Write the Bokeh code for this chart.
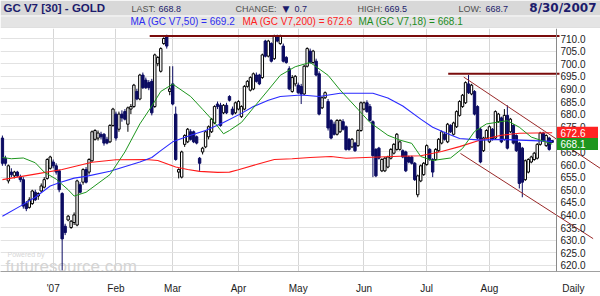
import numpy as np
from bokeh.plotting import figure
from bokeh.layouts import column
from bokeh.models import Range1d, FixedTicker, Span, Grid
from bokeh.core.properties import value
from bokeh.embed import file_html
from bokeh.resources import INLINE

# ---------------- data ----------------
opens = [670.5, 662.5, 653.5, 657.0, 655.5, 657.0, 655.0, 654.0, 644.5, 643.0,
         644.5, 649.0, 647.5, 649.5, 651.0, 654.5, 658.5, 661.0, 659.5, 657.5,
         648.5, 635.5, 638.0, 635.0, 637.0, 636.0, 652.0, 653.0, 658.0, 657.0,
         661.5, 670.0, 670.5, 672.0, 672.0, 670.0, 669.0, 675.5, 680.0, 674.0,
         680.0, 681.0, 676.0, 682.0, 683.0, 689.0, 686.0, 695.5, 693.5, 692.5,
         693.0, 683.0, 700.0, 697.0, 708.0, 711.0, 689.0, 692.0, 680.0, 657.0,
         655.0, 668.0, 669.0, 673.0, 673.0, 671.0, 662.5, 665.0, 667.0, 671.0,
         673.0, 676.5, 684.0, 683.5, 680.5, 683.5, 687.0, 682.0, 680.5, 682.0,
         679.0, 682.0, 691.0, 689.5, 690.0, 695.5, 695.5, 694.5, 709.0, 703.0,
         708.0, 702.0, 711.0, 708.0, 707.0, 702.5, 698.0, 689.0, 692.0, 691.5,
         691.0, 688.0, 699.0, 705.0, 700.5, 701.0, 696.0, 682.5, 686.5, 685.0,
         677.5, 676.0, 672.0, 673.0, 677.0, 675.0, 670.0, 667.0, 668.5, 667.5,
         673.5, 682.0, 684.5, 683.0, 677.0, 666.0, 666.5, 657.5, 657.5, 659.0,
         662.5, 664.5, 666.0, 666.0, 665.5, 665.0, 663.0, 663.0, 660.5, 648.0,
         653.5, 656.0, 660.0, 666.0, 662.0, 662.0, 665.5, 668.5, 672.0, 669.0,
         675.5, 672.0, 675.0, 679.5, 683.0, 684.5, 692.0, 688.0, 689.0, 683.0,
         674.0, 665.5, 670.5, 669.0, 674.0, 670.5, 677.0, 678.5, 670.0, 679.5,
         673.0, 675.5, 671.5, 668.5, 666.5, 654.0, 657.0, 661.0, 662.0, 662.5,
         668.0, 672.5, 667.5, 670.5, 669.5]
highs = [671.5, 663.5, 660.0, 658.5, 657.5, 657.5, 656.0, 655.0, 645.5, 647.0,
         650.0, 650.0, 649.0, 652.5, 655.0, 662.5, 663.5, 662.0, 660.5, 658.0,
         649.0, 636.5, 640.0, 638.0, 641.0, 654.0, 653.0, 658.5, 659.0, 662.5,
         673.5, 674.0, 673.5, 673.0, 672.5, 671.0, 676.0, 682.5, 681.0, 681.0,
         681.5, 682.0, 683.0, 684.0, 692.0, 690.0, 696.0, 696.5, 694.5, 693.5,
         694.0, 704.0, 703.0, 706.5, 710.5, 711.5, 699.0, 699.0, 683.0, 658.5,
         665.5, 672.0, 674.5, 674.0, 673.5, 671.5, 663.0, 667.0, 673.5, 675.5,
         678.5, 683.5, 685.0, 684.5, 684.0, 684.5, 687.5, 683.0, 685.0, 685.5,
         683.5, 691.5, 693.5, 695.0, 696.5, 696.5, 696.0, 704.0, 709.5, 709.5,
         708.5, 711.5, 711.5, 711.5, 708.0, 703.0, 699.0, 695.5, 695.5, 692.5,
         692.0, 699.5, 706.5, 706.0, 705.5, 702.0, 697.0, 687.0, 689.0, 686.0,
         678.0, 677.0, 678.0, 678.0, 678.0, 675.5, 670.5, 670.5, 669.0, 674.0,
         685.0, 685.0, 685.5, 684.0, 677.5, 666.5, 667.0, 662.5, 663.0, 663.5,
         666.5, 668.5, 672.5, 669.5, 666.0, 665.5, 663.5, 663.5, 661.0, 656.0,
         660.0, 661.0, 668.0, 666.5, 662.5, 666.5, 670.5, 673.5, 673.0, 676.5,
         676.0, 677.0, 681.5, 685.5, 688.0, 693.0, 695.5, 692.0, 689.5, 683.5,
         674.5, 671.0, 674.0, 675.5, 674.5, 681.5, 680.5, 679.0, 682.0, 683.5,
         678.5, 676.0, 672.0, 669.0, 667.0, 662.0, 662.5, 663.5, 665.0, 668.5,
         673.0, 673.0, 672.0, 671.0, 669.5]
lows = [659.5, 659.5, 652.5, 655.0, 654.5, 655.0, 653.0, 642.5, 641.5, 642.5,
        644.0, 645.5, 646.0, 649.0, 650.5, 654.0, 658.0, 658.5, 656.0, 649.0,
        618.0, 632.0, 637.5, 634.5, 636.0, 635.5, 648.5, 652.0, 652.5, 656.0,
        661.0, 669.5, 669.5, 670.0, 667.5, 668.0, 668.5, 675.0, 669.5, 673.0,
        677.0, 677.5, 673.0, 680.0, 682.5, 685.5, 685.5, 690.0, 690.0, 689.5,
        679.5, 682.5, 699.0, 696.5, 707.5, 706.0, 687.5, 683.5, 661.5, 654.5,
        654.5, 667.0, 668.5, 669.5, 668.5, 668.0, 657.5, 664.0, 666.5, 670.0,
        672.5, 676.0, 682.0, 675.0, 680.0, 680.0, 685.0, 679.5, 680.0, 681.5,
        678.5, 681.5, 690.5, 689.0, 689.5, 692.5, 691.5, 694.0, 702.5, 702.5,
        700.5, 701.5, 708.5, 707.5, 700.5, 700.0, 689.5, 688.5, 691.0, 688.0,
        684.0, 687.5, 698.5, 700.0, 700.0, 695.0, 679.5, 682.0, 686.0, 673.5,
        670.0, 671.5, 671.5, 672.5, 673.5, 665.5, 665.5, 666.5, 665.0, 667.0,
        673.0, 681.5, 680.5, 677.0, 655.0, 655.0, 662.0, 657.0, 657.0, 658.5,
        662.0, 664.0, 665.5, 665.5, 662.5, 657.0, 660.5, 660.0, 653.5, 647.0,
        653.0, 655.5, 659.5, 661.5, 655.0, 661.5, 665.0, 668.0, 669.5, 668.5,
        672.5, 671.5, 674.5, 679.0, 682.5, 684.0, 688.0, 687.5, 679.5, 670.0,
        660.5, 665.0, 670.0, 668.5, 669.5, 670.0, 676.5, 668.5, 669.5, 666.0,
        672.5, 668.0, 665.0, 650.5, 647.0, 653.5, 656.5, 660.5, 661.5, 662.0,
        667.5, 669.0, 667.0, 665.5, 668.7]
closes = [660.5, 660.5, 659.5, 656.0, 657.0, 655.5, 654.0, 643.5, 642.5, 646.0,
          649.5, 646.0, 648.5, 651.5, 654.0, 662.0, 663.0, 659.5, 657.0, 650.0,
          630.5, 633.0, 639.5, 637.5, 640.0, 653.5, 649.0, 658.0, 653.0, 662.0,
          673.0, 673.5, 672.5, 671.0, 668.5, 668.5, 675.5, 682.0, 670.5, 680.0,
          678.5, 678.0, 682.5, 683.0, 691.5, 686.0, 695.5, 690.5, 690.5, 690.5,
          680.5, 703.5, 702.5, 706.0, 710.0, 707.0, 690.0, 684.0, 662.0, 658.0,
          665.0, 671.5, 674.0, 670.0, 669.0, 668.5, 660.5, 666.5, 673.0, 675.0,
          678.0, 683.0, 683.0, 675.5, 683.5, 680.5, 685.5, 680.0, 684.5, 685.0,
          683.0, 691.0, 693.0, 694.5, 696.0, 693.0, 692.0, 703.5, 703.0, 709.0,
          701.0, 711.0, 709.0, 711.0, 701.0, 700.5, 690.0, 694.5, 695.0, 688.5,
          688.0, 699.0, 706.0, 700.5, 705.0, 695.5, 680.0, 686.5, 688.5, 674.5,
          670.5, 672.0, 677.5, 677.5, 674.0, 666.0, 666.0, 670.0, 665.5, 673.5,
          684.5, 684.5, 681.0, 677.5, 663.5, 655.5, 662.5, 662.0, 662.5, 663.0,
          666.0, 668.0, 672.0, 669.0, 663.0, 657.5, 661.0, 660.5, 654.0, 655.5,
          659.5, 660.5, 667.5, 662.0, 657.0, 666.0, 670.0, 673.0, 670.0, 676.0,
          673.0, 676.5, 681.0, 685.0, 687.5, 692.5, 688.5, 691.5, 680.0, 670.5,
          661.0, 670.5, 673.5, 675.0, 670.0, 681.0, 680.0, 669.0, 679.5, 666.5,
          678.0, 668.5, 665.5, 652.5, 653.0, 661.5, 662.0, 663.0, 664.5, 668.0,
          672.5, 669.5, 671.5, 666.0, 668.8]

ma18_x = [0, 3, 7, 11, 14, 18, 22, 24, 28, 32, 36, 41, 46, 50, 53, 57, 63, 67, 71,
          74, 76, 80, 84, 89, 93, 98, 103, 109, 113, 119, 123, 129, 133, 137, 140,
          144, 150, 154, 158, 162, 169, 173, 177, 184]
ma18_y = [662.8, 662.3, 662.6, 660.7, 657.0, 654.2, 650.0, 647.5, 649.0, 652.5,
          656.0, 665.0, 676.1, 683.2, 689.0, 691.9, 687.0, 681.9, 676.7, 672.2,
          673.5, 676.7, 682.5, 689.6, 695.4, 698.8, 700.5, 695.4, 689.6, 681.9,
          676.7, 671.6, 669.7, 668.4, 663.2, 661.6, 662.6, 666.4, 673.1, 676.1,
          677.4, 674.8, 670.9, 668.1]
ma50_x = [0, 6, 11, 16, 19, 24, 28, 36, 46, 50, 53, 57, 63, 68, 74, 80, 84, 89, 93,
          100, 106, 113, 124, 129, 134, 140, 144, 149, 153, 160, 167, 173, 184]
ma50_y = [639.5, 643.5, 647.0, 651.5, 652.8, 654.6, 655.3, 657.3, 661.0, 662.8,
          665.5, 669.0, 671.6, 673.5, 676.7, 680.3, 683.0, 685.5, 687.0, 687.6,
          687.0, 688.3, 688.3, 686.4, 683.2, 678.0, 674.8, 672.2, 670.3, 669.7,
          670.0, 669.7, 669.2]
ma200_x = [0, 10, 20, 30, 38, 48, 52, 58, 62, 66, 72, 76, 79, 85, 91, 97, 103, 110,
           115, 126, 133, 140, 147, 153, 160, 167, 173, 184]
ma200_y = [654.0, 656.0, 658.0, 660.9, 661.9, 662.0, 661.6, 659.0, 658.0, 657.3,
           656.9, 657.0, 657.9, 660.0, 662.0, 662.3, 662.8, 663.2, 662.5, 663.0,
           663.3, 663.5, 665.2, 667.1, 669.7, 671.6, 672.4, 672.6]

month_ticks = [17, 38, 57, 79, 99, 121, 142, 163]
month_labels = ["'07", "Feb", "Mar", "Apr", "May", "Jun", "Jul", "Aug"]
daily_tick = 191.1
price_ticks = [620, 625, 630, 635, 640, 645, 650, 655, 660, 665, 670, 675, 680,
               685, 690, 695, 700, 705, 710]
price_labels = ["620.0", "625.0", "630.0", "635.0", "640.0", "645.0", "650.0",
                "655.0", "660.0", "665.0", "670.0", "675.0", "680.0", "685.0",
                "690.0", "695.0", "700.0", "705.0", "710.0"]

resist_levels = [711.0, 696.0]
resist_start = [49.3, 149.2]
chan_upper_x = [154.4, 200.2]
chan_upper_y = [694.7, 658.4]
chan_lower_x = [153.3, 197.7]
chan_lower_y = [664.4, 630.6]

last_ma_values = [672.6, 668.1]
last_ma_colors = ["#ff2222", "#1e961e"]

# ---------------- geometry ----------------
BAR_PX = 2.988
X0 = -0.636
X1 = X0 + 600 / BAR_PX
PX_PER_USD = 2.593
Y_TOP = 710 + (38.3 - 28) / PX_PER_USD
Y_BOT = 710 - (278 - 38.3) / PX_PER_USD


def xi(px):
    return X0 + px / BAR_PX


def yv(py):
    return 710 - (py - 38.3) / PX_PER_USD


AXIS_X = xi(556)
FONT = value("Liberation Sans")

# ---------------- header ----------------
hdr = figure(width=600, height=28, x_range=Range1d(0, 600), y_range=Range1d(28, 0),
             toolbar_location=None, output_backend="svg", min_border=0,
             x_axis_location=None, y_axis_location=None)
hdr.grid.visible = False
hdr.outline_line_color = None
hdr.quad(left=0, right=600, top=0, bottom=15, fill_color="#d8d8d8", line_color=None)
hdr.quad(left=0, right=600, top=15, bottom=16, fill_color="#f2f2f2", line_color=None)
hdr.quad(left=0, right=600, top=16, bottom=27, fill_color="#e4e4e4", line_color=None)
hdr.quad(left=0, right=600, top=27, bottom=28, fill_color="#cdcdcd", line_color=None)

NAVY = "#1c1c6c"
GRAY = "#505050"
hdr.text(x=[3], y=[7.5], text=["GC V7 [30] - GOLD"], text_font=FONT,
         text_font_style="bold", text_font_size="11.5px", text_color=NAVY,
         text_baseline="middle")
hdr.text(x=[131, 235, 357, 458], y=[8, 8, 8, 8],
         text=["LAST:", "CHANGE:", "HIGH:", "LOW:"], text_font=FONT,
         text_font_size="9px", text_color=GRAY, text_baseline="middle")
hdr.text(x=[158, 294, 384, 485], y=[8, 8, 8, 8],
         text=["668.8", "0.7", "669.5", "668.7"], text_font=FONT,
         text_font_size="9px", text_color=NAVY, text_baseline="middle")
hdr.text(x=[282], y=[8], text=["\u25bc"], text_font=value("DejaVu Sans"),
         text_font_size="9px", text_color=NAVY, text_baseline="middle")
hdr.text(x=[596], y=[7.5], text=["8/30/2007"], text_font=value("DejaVu Sans"),
         text_font_style="bold", text_font_size="12px", text_color=NAVY,
         text_align="right", text_baseline="middle")
hdr.text(x=[130, 242, 358], y=[21.3, 21.3, 21.3],
         text=["MA (GC V7,50) = 669.2", "MA (GC V7,200) = 672.6", "MA (GC V7,18) = 668.1"],
         text_font=FONT, text_font_size="10px",
         text_color=["#2d2df0", "#ff2020", "#1e8c1e"], text_baseline="middle")

# ---------------- main chart ----------------
p = figure(width=600, height=268, x_range=Range1d(X0, X1), y_range=Range1d(Y_BOT, Y_TOP),
           toolbar_location=None, output_backend="svg", y_axis_location=None,
           min_border=0, min_border_bottom=18)
p.outline_line_color = None
p.grid.visible = False
p.add_layout(Grid(dimension=0, ticker=FixedTicker(ticks=month_ticks),
                  grid_line_color="#d6d6d6"))
p.add_layout(Grid(dimension=1, ticker=FixedTicker(ticks=price_ticks),
                  grid_line_color="#e2e2e2"))

# white label area at right
p.quad(left=AXIS_X, right=X1, bottom=Y_BOT, top=Y_TOP, fill_color="white", line_color=None)

# watermark
p.text(x=[xi(7)], y=[yv(261)], text=["Powered by"], text_font=FONT,
       text_font_size="7px", text_color="#d6d6d6", text_baseline="alphabetic")
p.text(x=[xi(5)], y=[yv(273)], text=["futuresource.com"], text_font=FONT,
       text_font_size="17px", text_color="#d4d4d4", text_baseline="alphabetic")

# candlesticks
o = np.array(opens)
h = np.array(highs)
l = np.array(lows)
c = np.array(closes)
x = np.arange(len(c))
up = c >= o
dn = ~up
NAVY_C = "#0c0c62"
p.segment(x0=x[up], y0=h[up], x1=x[up], y1=l[up], line_color="black", line_width=1)
p.vbar(x=x[up], width=0.8, top=c[up], bottom=o[up], fill_color="white",
       line_color="black", line_width=1)
p.segment(x0=x[dn], y0=h[dn], x1=x[dn], y1=l[dn], line_color=NAVY_C, line_width=1)
p.vbar(x=x[dn], width=0.8, top=o[dn], bottom=c[dn], fill_color=NAVY_C,
       line_color=NAVY_C, line_width=1)

# moving averages
p.line(ma200_x, ma200_y, line_color="#ff1a1a", line_width=1.1)
p.line(ma50_x, ma50_y, line_color="#2a2aff", line_width=1.1)
p.line(ma18_x, ma18_y, line_color="#1e961e", line_width=1)

# resistance and channel lines
p.segment(x0=resist_start, y0=resist_levels, x1=[xi(559)] * 2, y1=resist_levels,
          line_color="#7a0c0c", line_width=2)
p.line(chan_upper_x, chan_upper_y, line_color="#992828", line_width=1)
p.line(chan_lower_x, chan_lower_y, line_color="#992828", line_width=1)

# right price scale
p.add_layout(Span(location=AXIS_X, dimension="height", line_color="#8a8a8a", line_width=1))
p.text(x=[xi(560)] * len(price_ticks), y=price_ticks, text=price_labels, text_font=FONT,
       text_font_size="10px", text_color="#222222", text_baseline="middle")
p.rect(x=[xi(577)] * 2, y=last_ma_values, width=41, height=12, width_units="screen",
       height_units="screen", fill_color=last_ma_colors, line_color=None)
p.text(x=[xi(560)] * 2, y=last_ma_values, text=[f"{v:.1f}" for v in last_ma_values],
       text_font=FONT, text_font_size="10px", text_color="white", text_baseline="middle")

# bottom axis
p.xaxis.ticker = FixedTicker(ticks=month_ticks + [daily_tick])
overrides = {t: lab for t, lab in zip(month_ticks, month_labels)}
overrides[daily_tick] = "Daily"
p.xaxis.major_label_overrides = overrides
p.xaxis.major_tick_line_color = None
p.xaxis.minor_tick_line_color = None
p.xaxis.axis_line_color = "#a0a0a0"
p.xaxis.major_label_text_font = "Liberation Sans"
p.xaxis.major_label_text_font_size = "10px"
p.xaxis.major_label_text_color = "#222222"
p.xaxis.major_label_standoff = 5

layout = column(hdr, p)
open("out.html", "w").write(file_html(layout, INLINE))
